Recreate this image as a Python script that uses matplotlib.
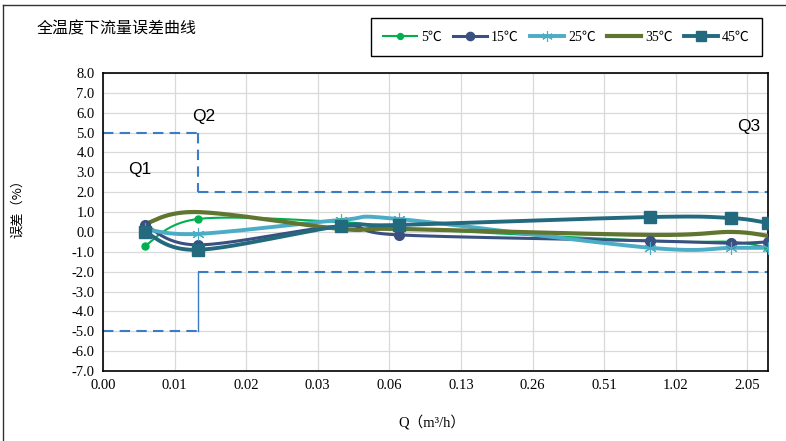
import numpy as np
import matplotlib
matplotlib.use('Agg')
import matplotlib.pyplot as plt
from matplotlib.lines import Line2D

# flow points (m3/h) and error (%) per temperature
q = [0.006, 0.01, 0.04, 0.07, 0.8, 1.75, 2.5]
err_5 = [-0.7, 0.65, 0.5, 0.2, -0.45, -0.5, -0.8]
err_15 = [0.35, -0.65, 0.3, -0.15, -0.45, -0.57, -0.5]
err_25 = [0.15, -0.1, 0.6, 0.65, -0.8, -0.8, -0.8]
err_35 = [0.4, 1.0, 0.15, 0.15, -0.15, 0.0, -0.2]
err_45 = [0.0, -0.9, 0.3, 0.35, 0.75, 0.7, 0.45]
labels = ['5℃', '15℃', '25℃', '35℃', '45℃']

# error limits: Q1..Q2 -> +-5 %, Q2..Q3 -> +-2 %
q_bounds = [0.004, 0.01, 2.5]
upper = [5, 2]
lower = [-5, -2]

xtick_vals = [0.004 * 2 ** k for k in range(10)]
xtick_labels = ['0.00', '0.01', '0.02', '0.03', '0.06', '0.13', '0.26', '0.51', '1.02', '2.05']
yticks = list(range(-7, 9))

serif = ['Liberation Serif', 'Noto Sans CJK SC']
cjk = ['Noto Sans CJK SC', 'DejaVu Sans']


def smooth(xs, ys, n=40):
    # Excel-like smoothed line (Catmull-Rom -> bezier) in log2(x), y space
    u = np.log2(np.asarray(xs, float))
    p = np.column_stack([u, np.asarray(ys, float)])
    p = np.vstack([p[0], p, p[-1]])
    out = []
    t = np.linspace(0, 1, n)[:, None]
    for i in range(1, len(p) - 2):
        p0, p1, p2, p3 = p[i - 1], p[i], p[i + 1], p[i + 2]
        c1 = p1 + (p2 - p0) / 6
        c2 = p2 - (p3 - p1) / 6
        seg = ((1 - t) ** 3) * p1 + 3 * ((1 - t) ** 2) * t * c1 + 3 * (1 - t) * t ** 2 * c2 + t ** 3 * p2
        out.append(seg)
    s = np.vstack(out)
    return 2 ** s[:, 0], s[:, 1]


fig = plt.figure(figsize=(7.86, 4.41), dpi=100)
ax = fig.add_axes([103 / 786, 1 - 371 / 441, 665 / 786, 298 / 441])

# limit lines
lim_c = '#3B7DC4'
ax.plot([q_bounds[0], q_bounds[1]], [upper[0], upper[0]], color=lim_c, lw=1.5, dashes=(5, 3))
ax.plot([q_bounds[1], q_bounds[1]], [upper[0], upper[1]], color=lim_c, lw=1.5, dashes=(5, 3))
ax.plot([q_bounds[1], q_bounds[2]], [upper[1], upper[1]], color=lim_c, lw=1.5, dashes=(5, 3))
ax.plot([q_bounds[0], q_bounds[1]], [lower[0], lower[0]], color=lim_c, lw=1.5, dashes=(5, 3))
ax.plot([q_bounds[1], q_bounds[1]], [lower[0], lower[1]], color=lim_c, lw=1.0)
ax.plot([q_bounds[1], q_bounds[2]], [lower[1], lower[1]], color=lim_c, lw=1.5, dashes=(5, 3))

series = [
    (err_5, '#00B050', 1.5, 'o', 5, 1.0),
    (err_15, '#3A5080', 2.2, 'o', 7, 1.0),
    (err_25, '#4BACC6', 2.8, (6, 2, 0), 9, 0.8),
    (err_35, '#5F7530', 3.0, None, 0, 1.0),
    (err_45, '#246A7E', 2.8, 's', 9, 1.0),
]
handles = []
for (ys, c, lw, mk, ms, mew), lab in zip(series, labels):
    sx, sy = smooth(q, ys)
    ax.plot(sx, sy, color=c, lw=lw, solid_capstyle='round', zorder=3)
    if mk is not None:
        ax.plot(q, ys, ls='none', marker=mk, ms=ms, color=c, mec=c, mew=mew, zorder=4)
    handles.append(Line2D([], [], color=c, lw=lw, marker=mk, ms=ms * 0.85, mec=c, mew=mew))

ax.set_xscale('log', base=2)
ax.set_xlim(0.004, 2.5)
ax.set_ylim(-7, 8)
ax.set_xticks(xtick_vals)
ax.set_xticklabels(xtick_labels, family=serif, fontsize=10.5)
ax.minorticks_off()
ax.set_yticks(yticks)
ax.set_yticklabels(['%.1f' % v for v in yticks], family=serif, fontsize=10.5)
ax.tick_params(length=0, pad=6)
ax.grid(True, color='#D9D9D9', lw=0.9)
ax.set_axisbelow(True)
for s in ax.spines.values():
    s.set_color('black')
    s.set_linewidth(1.2)

ax.text(0.0051, 2.9, 'Q1', fontsize=12.5, family='Liberation Sans')
ax.text(0.0095, 5.6, 'Q2', fontsize=12.5, family='Liberation Sans')
ax.text(1.85, 5.1, 'Q3', fontsize=12.5, family='Liberation Sans')

fig.text(37 / 786, 1 - 29 / 441, '全温度下流量误差曲线', family=cjk, fontsize=11.5, va='center')
fig.text(18 / 786, 1 - 205 / 441, '误差（%）', family=cjk, fontsize=9.5, rotation=90, va='center', ha='center')
fig.text(432 / 786, 1 - 422 / 441, 'Q（m³/h）', family=serif, fontsize=10.5, va='center', ha='center')

leg = fig.legend(handles, labels, loc='center', ncol=5, mode='expand',
                 bbox_to_anchor=(364 / 786, 1 - 57 / 441, 405 / 786, 40 / 441),
                 fancybox=False, edgecolor='black', framealpha=1,
                 prop={'family': serif, 'size': 10}, handlelength=2.4,
                 handletextpad=0.3, borderpad=0.9)
leg.get_frame().set_linewidth(1.0)

# outer chart border
fig.add_artist(Line2D([3 / 786, 3 / 786], [0, 1 - 5 / 441], color='#333333', lw=1))
fig.add_artist(Line2D([3 / 786, 1], [1 - 5 / 441, 1 - 5 / 441], color='#333333', lw=1))

fig.savefig('out.png', dpi=100)
